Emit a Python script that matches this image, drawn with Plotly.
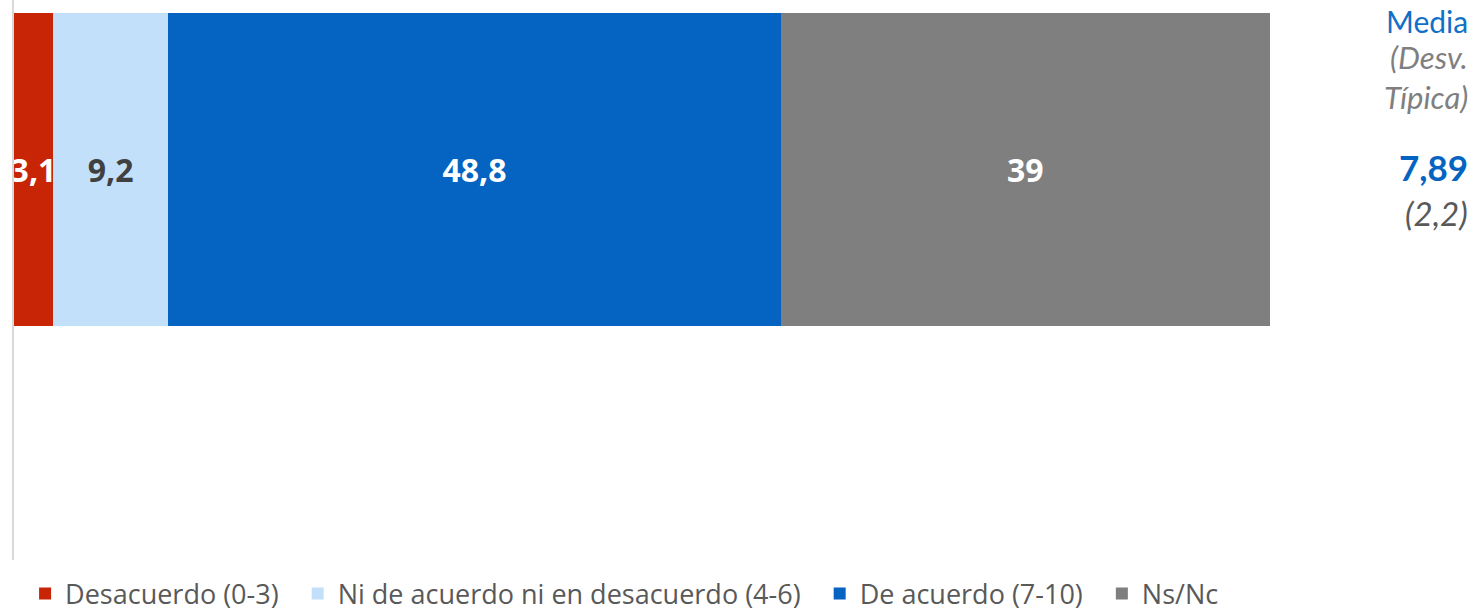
import plotly.graph_objects as go

categories = ["Desacuerdo (0-3)", "Ni de acuerdo ni en desacuerdo (4-6)", "De acuerdo (7-10)", "Ns/Nc"]
values = [3.1, 9.2, 48.8, 39]
labels = ["3,1", "9,2", "48,8", "39"]
colors = ["#C82506", "#C3E0FB", "#0563C1", "#7F7F7F"]
label_colors = ["#FFFFFF", "#404040", "#FFFFFF", "#FFFFFF"]
media_text = "7,89"
desv_text = "(2,2)"

fig = go.Figure()
for i, (cat, v, lab, c, lc) in enumerate(zip(categories, values, labels, colors, label_colors)):
    pad = "\u00a0\u00a0" if i < len(categories) - 1 else ""
    fig.add_trace(go.Bar(
        x=[v], y=[0], orientation="h", name=cat + pad,
        marker=dict(color=c, line=dict(width=0)),
        width=1,
        text=[lab], textposition="inside", insidetextanchor="middle",
        constraintext="none", textangle=0,
        textfont=dict(family="Open Sans", size=32, color=lc, weight="bold"),
        hoverinfo="skip",
    ))

total = sum(values)
fig.update_layout(
    barmode="stack",
    width=1475, height=611,
    margin=dict(l=14, r=205, t=0, b=51),
    plot_bgcolor="white", paper_bgcolor="white",
    xaxis=dict(range=[0, total], visible=False),
    yaxis=dict(range=[-1.248, 0.5415], showticklabels=False, showgrid=False,
               zeroline=False, showline=True, linecolor="#D9D9D9", linewidth=2),
    showlegend=True,
    legend=dict(orientation="h", xref="container", yref="container",
                x=0.017, xanchor="left", y=1 - 594 / 611, yanchor="middle",
                font=dict(family="Open Sans", size=27, color="#595959"),
                itemwidth=30, traceorder="normal"),
)

ann = [
    dict(text="Media", y=1, color="#1070C8", size=30, italic=False, bold=False, anchor="top"),
    dict(text="(Desv.", y=57, color="#7F7F7F", size=31, italic=True, bold=False, anchor="middle"),
    dict(text="Típica)", y=97, color="#7F7F7F", size=31, italic=True, bold=False, anchor="middle"),
    dict(text=media_text, y=167, color="#0563C1", size=35, italic=False, bold=True, anchor="middle"),
    dict(text=desv_text, y=213, color="#595959", size=33, italic=True, bold=False, anchor="middle"),
]
for a in ann:
    t = a["text"]
    if a["bold"]:
        t = "<b>" + t + "</b>"
    if a["italic"]:
        t = "<i>" + t + "</i>"
    fig.add_annotation(
        text=t, xref="paper", yref="paper",
        x=(1470 - 14) / 1256, xanchor="right",
        y=1 - a["y"] / 560, yanchor=a["anchor"],
        showarrow=False,
        font=dict(family="Lato", size=a["size"], color=a["color"]),
    )

fig.write_html("out.html", config={"displayModeBar": False},
               post_script="document.body.style.margin='0';document.body.style.overflow='hidden';")
